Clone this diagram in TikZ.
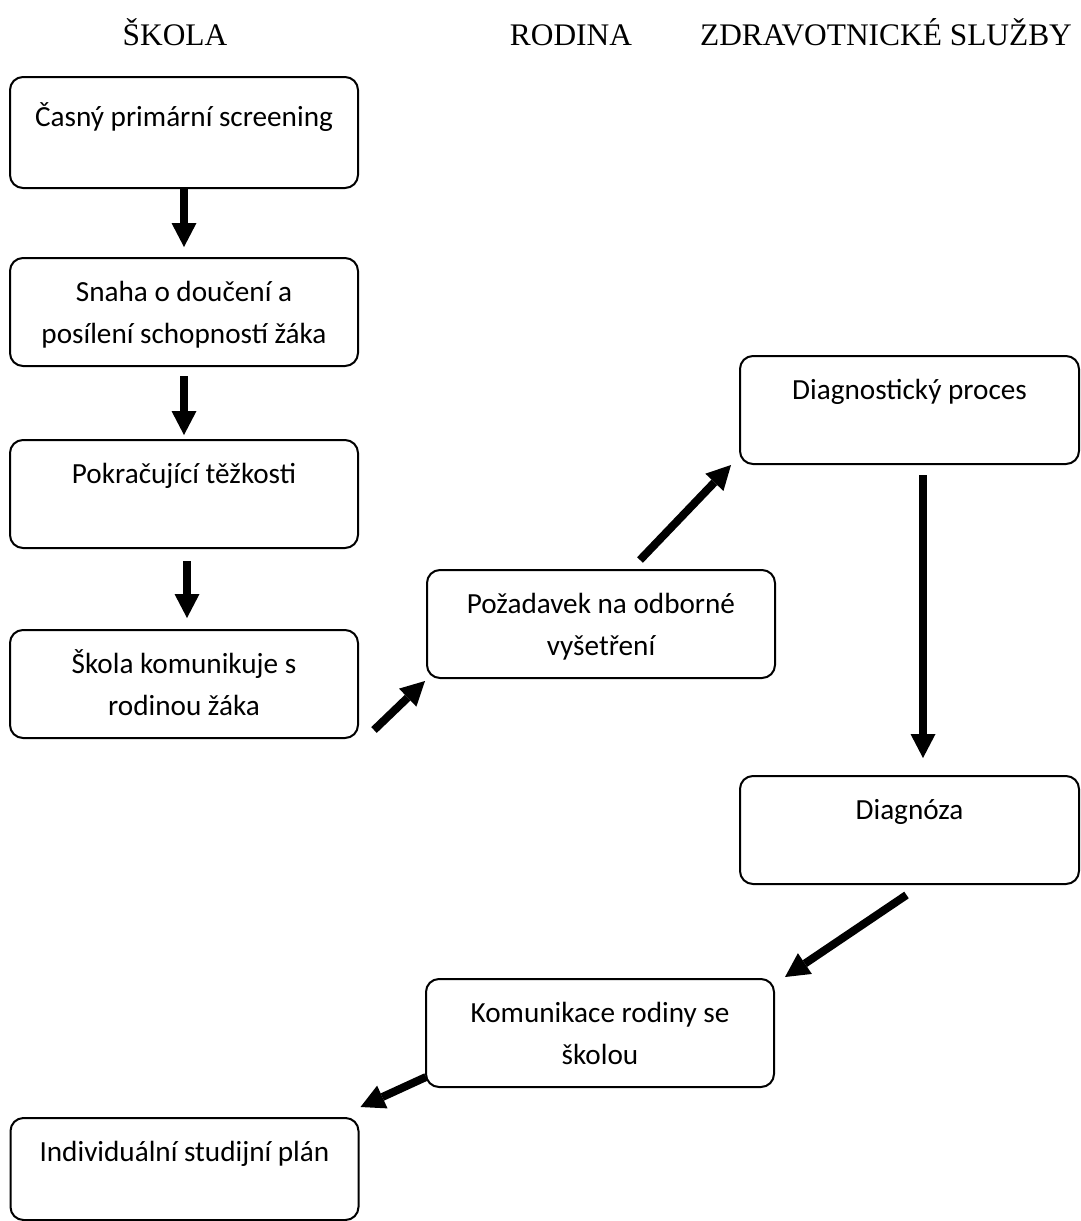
\documentclass[tikz,border=0pt]{standalone}
\usepackage{fontspec}
\setmainfont{Liberation Serif}
\newfontfamily\boxfont{Carlito}
\usetikzlibrary{positioning,arrows.meta}

\tikzset{
  stage/.style={draw, line width=1pt, rounded corners=6.5pt, anchor=north,
    minimum width=174pt, inner sep=0pt, align=center,
    text height=21.5pt, text depth=32.5pt,
    font=\boxfont\fontsize{14.6pt}{21pt}\selectfont},
  twoline/.style={text height=42.5pt, text depth=11.5pt},
  lane/.style={anchor=base, font=\fontsize{15.7pt}{18pt}\selectfont},
  flow/.style={line width=4pt, -{Triangle[length=12pt,width=12.5pt,line width=0pt]}}
}

\begin{document}
\begin{tikzpicture}[x=0.5pt, y=-0.5pt]
\useasboundingbox (0,0) rectangle (1081,1221);

% column heads
\node[lane] (lskola) at (175,45) {ŠKOLA};
\node[lane] (lrodina) at (571,45) {RODINA};
\node[lane] (lzdrav) at (886,45) {ZDRAVOTNICKÉ SLUŽBY};

% school
\node[stage, text height=24.5pt, text depth=31pt] (cas) at (184,76) {Časný primární screening};
\node[stage, twoline] (snaha) at (184,257) {Snaha o doučení a\\posílení schopností žáka};
\node[stage] (pokr) at (184,439) {Pokračující těžkosti};
\node[stage, twoline] (skola) at (184,629) {Škola komunikuje s\\rodinou žáka};

% family
\node[stage, twoline] (pozad) at (601,569) {Požadavek na odborné\\vyšetření};

% health services
\node[stage, minimum width=169.5pt] (diagproc) at (909.5,355) {Diagnostický proces};
\node[stage, minimum width=169.5pt] (diagnoza) at (909.5,775) {Diagnóza};

% back to family and school
\node[stage, twoline] (komun) at (600,978) {Komunikace rodiny se\\školou};
\node[stage, text depth=29.5pt] (isp) at (184.5,1117) {Individuální studijní plán};

\draw[flow, shorten >=5pt] (cas.south) -- (snaha.north);
\draw[flow, shorten <=4.5pt, shorten >=2pt] (snaha.south) -- (pokr.north);
\draw[flow, shorten <=6pt, shorten >=5.5pt] ([xshift=1.5pt]pokr.south) -- ([xshift=1.5pt]skola.north);
\draw[flow] ([shift={(15,-9)}]skola.south east) -- ([shift={(-1,2)}]pozad.south west);
\draw[flow] ([shift={(39,-9)}]pozad.north) -- ([shift={(-8,0)}]diagproc.south west);
\draw[flow] ([shift={(13.5,10)}]diagproc.south) -- ([shift={(13.5,-17)}]diagnoza.north);
\draw[flow] ([shift={(-3,10)}]diagnoza.south) -- ([shift={(10,-1)}]komun.north east);
\draw[flow] ([shift={(1,-11)}]komun.south west) -- ([shift={(1,-10)}]isp.north east);
\end{tikzpicture}
\end{document}
